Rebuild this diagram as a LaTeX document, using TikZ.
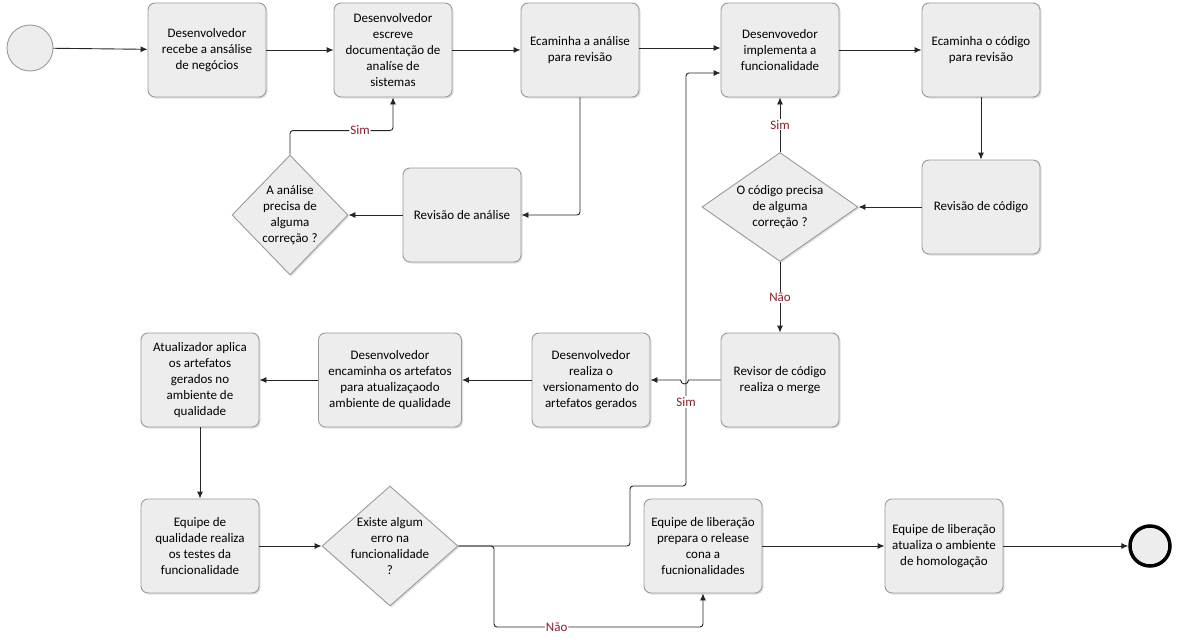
\documentclass[tikz,border=0pt]{standalone}
\usepackage{fontspec}
\setmainfont{Carlito}
\usetikzlibrary{arrows.meta,shapes.geometric,shadows}
\definecolor{boxfill}{HTML}{EDEDED}
\definecolor{boxline}{HTML}{9A9A9A}
\definecolor{lblred}{HTML}{8B1E2A}
\tikzset{
    box/.style ={
        rectangle,
        rounded corners =7pt,
        minimum width =118pt,
        minimum height =94pt,
        inner sep=2pt,
        align=center,
        fill=boxfill,
        draw=boxline,
        drop shadow={shadow xshift=1.5pt,shadow yshift=-1.5pt,opacity=0.25}
    },
    decision/.style ={
        diamond,
        inner sep=-4pt,
        align=center,
        fill=boxfill,
        draw=boxline,
        drop shadow={shadow xshift=1.5pt,shadow yshift=-1.5pt,opacity=0.25}
    },
    lbl/.style ={fill=white,text=lblred,inner sep=1pt}
}

\begin{document}
\begin{tikzpicture}[x=1pt,y=-1pt,font=\fontsize{13}{16}\selectfont,
    >={Latex[length=7pt,width=6pt]},line width=0.9pt,draw=black!85]

        \useasboundingbox (0,0) rectangle (1181,642);

        \node[circle,minimum size=46pt,fill=boxfill,draw=boxline] (START) at(30,48) {};
        \node[box] (RECEBE) at(207,50) {Desenvolvedor\\recebe a ansálise\\de negócios};
        \node[box] (ESCREVE) at(393,50) {Desenvolvedor\\escreve\\documentação de\\analíse de\\sistemas};
        \node[box] (ENCANA) at(580,50) {Ecaminha a análise\\para revisão};
        \node[box] (IMPL) at(780,50) {Desenvovedor\\implementa a\\funcionalidade};
        \node[box] (ENCCOD) at(981,50) {Ecaminha o código\\para revisão};
        \node[box] (REVCOD) at(981,207) {Revisão de código};
        \node[decision,aspect=1.43,minimum width=156pt,minimum height=109pt] (PRECCOD) at(780,207) {O código precisa\\de alguma\\correção ?};
        \node[box] (REVANA) at(462,215) {Revisão de análise};
        \node[decision,aspect=0.97,minimum width=116pt,minimum height=120pt] (PRECANA) at(290,215) {A análise\\precisa de\\alguma\\correção ?};
        \node[box] (MERGE) at(780,380) {Revisor de código\\realiza o merge};
        \node[box] (VERS) at(591,380) {Desenvolvedor\\realiza o\\versionamento do\\artefatos gerados};
        \node[box,minimum width=143pt] (ENCART) at(390,380) {Desenvolvedor\\encaminha os artefatos\\para atualizaçaodo\\ambiente de qualidade};
        \node[box] (APLICA) at(200,380) {Atualizador aplica\\os artefatos\\gerados no\\ambiente de\\qualidade};
        \node[box] (TESTES) at(200,546) {Equipe de\\qualidade realiza\\os testes da\\funcionalidade};
        \node[decision,aspect=1.13,minimum width=136pt,minimum height=120pt] (ERRO) at(390,546) {Existe algum\\erro na\\funcionalidade\\?};
        \node[box] (PREPARA) at(703,546) {Equipe de liberação\\prepara o release\\cona a\\fucnionalidades};
        \node[box] (ATUALIZA) at(944,546) {Equipe de liberação\\atualiza o ambiente\\de homologação};
        \node[circle,minimum size=40pt,fill=boxfill,draw=black,line width=3.5pt] (END) at(1150,546) {};

        \coordinate (SIMA) at(630,486);
        \coordinate (SIMB) at(686,73);
        \coordinate (NAOA) at(494,627);

        \draw[->] (START)--(RECEBE);
        \draw[->] (RECEBE)--(ESCREVE);
        \draw[->] (ESCREVE)--(ENCANA);
        \draw[->] (ENCANA.east |- 0,48)--(IMPL.west |- 0,48);
        \draw[->] (IMPL)--(ENCCOD);
        \draw[->] (ENCCOD)--(REVCOD);
        \draw[->] (REVCOD)--(PRECCOD);
        \draw[->] (PRECCOD)--node[lbl,pos=0.5]{Sim}(IMPL);
        \draw[->] (PRECCOD)--node[lbl,pos=0.5]{Não}(MERGE);
        \draw[->,rounded corners=3pt] (ENCANA.south) |- (REVANA.east);
        \draw[->] (REVANA)--(PRECANA);
        \draw[->,rounded corners=3pt] (PRECANA.north) -- ++(0,-24) -| node[lbl,pos=0.34]{Sim} (ESCREVE.south);
        \draw[->] (MERGE.west) -- ++(-32,0) arc[start angle=0,end angle=180,radius=4] -- (VERS.east);
        \draw[->] (VERS)--(ENCART);
        \draw[->] (ENCART)--(APLICA);
        \draw[->] (APLICA)--(TESTES);
        \draw[->] (TESTES)--(ERRO);
        \draw[->,rounded corners=3pt] (ERRO.east) -| (SIMA) -| (SIMB) -- (IMPL.west |- SIMB);
        \node[lbl] (SIMLBL) at(686,402) {Sim};
        \draw[->,rounded corners=3pt] (ERRO.east) -| (NAOA) -| node[lbl,pos=0.15]{Não} (PREPARA.south);
        \draw[->] (PREPARA)--(ATUALIZA);
        \draw[->] (ATUALIZA)--(END);
    \end{tikzpicture}
\end{document}
